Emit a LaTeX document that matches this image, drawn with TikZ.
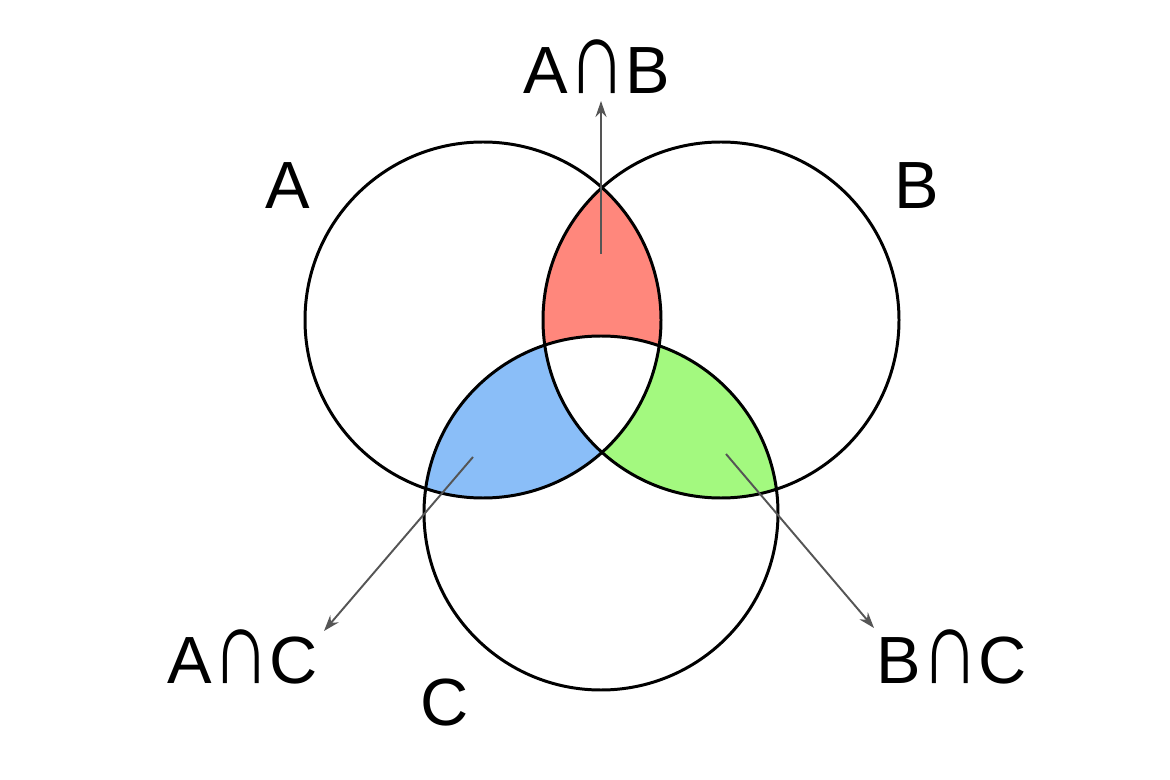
\documentclass[tikz,border=0pt]{standalone}
\usepackage{fontspec}
\setmainfont{Liberation Sans}
\usetikzlibrary{arrows.meta}
\definecolor{Ink}{HTML}{000000}
\definecolor{Pointer}{HTML}{555555}
\definecolor{RedSet}{HTML}{FF877C}
\definecolor{BlueSet}{HTML}{8ABEF8}
\definecolor{GreenSet}{HTML}{A3F97F}
\newcommand{\capsign}{\scalebox{1.2}[1.6]{∩}}
\tikzset{
  setline/.style={draw=Ink, line width=1.7pt},
  pointer/.style={-{Stealth[length=3.2mm,width=2.2mm]}, draw=Pointer, line width=1.1pt},
  setlabel/.style={font=\fontsize{38}{42}\selectfont, inner sep=0pt}
}

\begin{document}
\begin{tikzpicture}[x=0.02cm,y=-0.02cm]
    \useasboundingbox (0,0) rectangle (1170,780);
    % set centres
    \coordinate (cA) at (483,320);
    \coordinate (cB) at (721,320);
    \coordinate (cC) at (601,513);
    % pairwise overlaps
    \begin{scope}
      \clip (cA) circle (178);
      \fill[RedSet] (cB) circle (178);
      \fill[BlueSet] (cC) circle (177);
    \end{scope}
    \begin{scope}
      \clip (cB) circle (178);
      \fill[GreenSet] (cC) circle (177);
    \end{scope}
    % triple overlap stays white
    \begin{scope}
      \clip (cA) circle (178);
      \clip (cB) circle (178);
      \fill[white] (cC) circle (177);
    \end{scope}
    \draw[setline] (cA) circle (178);
    \draw[setline] (cB) circle (178);
    \draw[setline] (cC) circle (177);
    % labels
    \node[setlabel] (labA) at (288,186) {A};
    \node[setlabel] (labB) at (917,186) {B};
    \node[setlabel] (labC) at (445,703) {C};
    \node[setlabel] (labAB) at (597,67) {A\capsign B};
    \node[setlabel] (labAC) at (243,657) {A\capsign C};
    \node[setlabel] (labBC) at (952,657) {B\capsign C};
    % pointers
    \coordinate (ab) at (601,254);
    \coordinate (abtip) at (601,101);
    \coordinate (ac) at (473,457);
    \coordinate (actip) at (324,631);
    \coordinate (bc) at (726,454);
    \coordinate (bctip) at (874,628);
    \draw[pointer] (ab)--(abtip);
    \draw[pointer] (ac)--(actip);
    \draw[pointer] (bc)--(bctip);
\end{tikzpicture}
\end{document}
